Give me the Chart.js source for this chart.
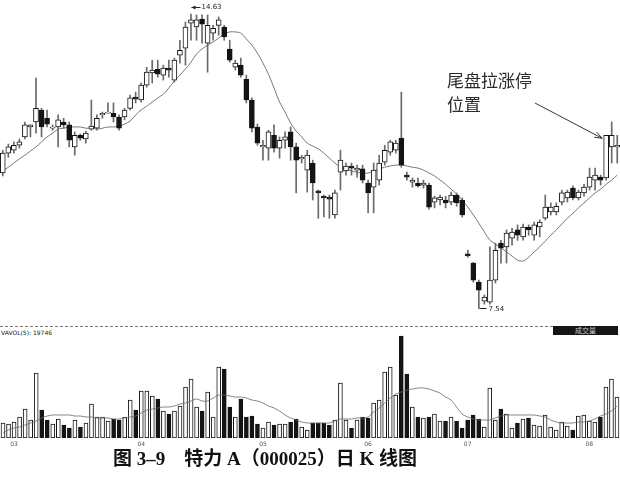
<!DOCTYPE html>
<html lang="zh">
<head>
    <meta charset="UTF-8">
    <title>特力A（000025）日K线图</title>
    <script src="https://cdn.jsdelivr.net/npm/chart.js"></script>
    <style>
        html, body {
            margin: 0;
            padding: 0;
            background: #ffffff;
        }

        body {
            width: 620px;
            height: 482px;
            position: relative;
            overflow: hidden;
            font-family: 'Noto Sans CJK SC', sans-serif;
            color: #222;
        }

        #price-chart { position: absolute; left: 0; top: 0; }
        #vol-chart { position: absolute; left: 0; top: 322px; }

        .sep {
            position: absolute;
            left: 0;
            top: 326px;
            width: 553px;
            border-top: 1px dashed #777;
        }

        .vol-label {
            position: absolute;
            left: 1px;
            top: 329px;
            font: 6px 'DejaVu Sans', sans-serif;
            color: #222;
            white-space: pre;
        }

        .vol-tag {
            position: absolute;
            left: 553px;
            top: 326px;
            width: 65px;
            height: 9px;
            background: #151515;
            color: #cfcfcf;
            font-size: 7px;
            line-height: 9px;
            text-align: center;
        }

        .note {
            position: absolute;
            left: 447px;
            top: 68px;
            font-size: 17px;
            line-height: 24px;
            color: #2a2a2a;
        }

        .caption {
            position: absolute;
            left: 113px;
            top: 449px;
            font: bold 19px 'Liberation Serif', 'Noto Sans CJK SC', serif;
            line-height: 19px;
            white-space: pre;
            color: #111;
        }
    </style>
</head>
<body>
    <canvas id="price-chart" width="620" height="322"></canvas>
    <div class="note">尾盘拉涨停<br>位置</div>

    <div class="sep"></div>
    <div class="vol-label">VAVOL(5): 19746</div>
    <div class="vol-tag">成交量</div>
    <canvas id="vol-chart" width="620" height="128"></canvas>

    <div class="caption">图 3–9　特力 A（000025）日 K 线图</div>

    <script>
        const opens = [
            10.80, 11.28, 11.35, 11.47, 11.67, 11.91, 12.03, 12.32, 12.12, 11.88,
            11.91, 12.03, 11.96, 11.43, 11.71, 11.62, 11.86, 11.88, 12.20, 12.24,
            12.24, 12.15, 12.15, 12.36, 12.63, 12.56, 12.92, 13.21, 13.30, 13.16,
            13.33, 13.04, 13.64, 13.81, 14.41, 14.32, 14.51, 13.93, 14.17, 14.36,
            14.32, 13.79, 13.35, 13.40, 13.06, 12.56, 11.91, 11.43, 11.40, 11.71,
            11.40, 11.59, 11.79, 11.43, 11.14, 10.87, 11.04, 10.37, 10.24, 10.22,
            9.79, 10.82, 10.85, 10.97, 10.87, 10.90, 10.56, 10.46, 10.63, 11.06,
            11.30, 11.35, 11.64, 10.75, 10.58, 10.56, 10.51, 10.51, 10.10, 10.15,
            10.15, 10.10, 10.27, 10.15, 8.85, 8.63, 8.17, 7.71, 7.69, 8.22,
            9.11, 9.02, 9.23, 9.43, 9.26, 9.50, 9.30, 9.50, 9.71, 9.86,
            9.86, 10.10, 10.20, 10.44, 10.20, 10.32, 10.46, 10.63, 10.70, 10.68,
            11.43, 11.43
        ];
        const highs = [
            11.35, 11.50, 11.55, 11.62, 12.03, 11.96, 13.09, 12.36, 12.32, 11.96,
            12.20, 12.12, 12.03, 11.79, 11.74, 11.81, 12.56, 12.20, 12.27, 12.49,
            12.49, 12.20, 12.36, 12.68, 12.75, 12.97, 13.35, 13.52, 13.52, 13.40,
            13.52, 13.57, 14.00, 14.44, 14.63, 14.61, 14.61, 14.61, 14.36, 14.56,
            14.36, 14.00, 13.52, 13.57, 13.16, 12.61, 11.98, 11.59, 11.83, 11.96,
            11.67, 11.79, 11.91, 11.52, 11.23, 11.35, 11.11, 10.39, 10.27, 10.27,
            10.39, 11.35, 11.04, 11.04, 10.99, 10.99, 10.63, 11.04, 11.23, 11.47,
            11.59, 11.59, 12.75, 10.82, 10.68, 10.68, 10.63, 10.56, 10.24, 10.27,
            10.24, 10.34, 10.32, 10.20, 8.94, 8.65, 8.22, 7.86, 9.02, 9.11,
            9.18, 9.43, 9.47, 9.55, 9.57, 9.55, 9.62, 9.67, 10.27, 10.08,
            10.08, 10.39, 10.39, 10.49, 10.39, 10.53, 10.92, 10.92, 10.75, 11.71,
            12.03, 11.71
        ];
        const lows = [
            10.73, 11.18, 11.28, 11.40, 11.62, 11.67, 11.76, 11.67, 11.91, 11.83,
            11.43, 11.88, 11.43, 11.23, 11.59, 11.52, 11.83, 11.83, 12.12, 12.24,
            12.03, 11.83, 12.08, 12.32, 12.49, 12.51, 12.87, 12.97, 13.11, 13.04,
            13.11, 12.99, 13.45, 13.40, 14.00, 14.00, 13.93, 13.23, 14.00, 14.12,
            14.00, 13.47, 13.28, 13.11, 12.49, 11.79, 11.47, 11.11, 11.11, 11.30,
            11.16, 11.40, 11.11, 10.32, 11.04, 10.34, 10.15, 9.71, 9.74, 9.71,
            9.71, 10.39, 10.75, 10.75, 10.70, 10.56, 9.84, 9.84, 10.51, 10.99,
            11.23, 11.28, 10.94, 10.63, 10.46, 10.46, 10.44, 9.93, 9.96, 10.03,
            9.96, 10.03, 10.00, 9.74, 8.77, 8.17, 7.54, 7.64, 7.64, 8.15,
            8.63, 8.63, 9.06, 9.18, 9.18, 9.30, 9.18, 9.26, 9.67, 9.79,
            9.79, 10.03, 10.10, 10.15, 10.15, 10.24, 10.39, 10.39, 10.51, 10.63,
            11.04, 11.04
        ];
        const closes = [
            11.28, 11.43, 11.47, 11.55, 11.96, 11.96, 12.36, 11.91, 11.98, 11.91,
            12.08, 11.96, 11.59, 11.71, 11.64, 11.76, 11.93, 12.12, 12.24, 12.27,
            12.15, 11.88, 12.32, 12.61, 12.58, 12.92, 13.23, 13.28, 13.18, 13.33,
            13.28, 13.52, 13.76, 14.32, 14.49, 14.49, 14.39, 14.36, 14.29, 14.49,
            14.08, 13.52, 13.45, 13.16, 12.56, 11.88, 11.52, 11.47, 11.79, 11.40,
            11.59, 11.67, 11.43, 11.11, 11.18, 11.23, 10.56, 10.32, 10.20, 10.17,
            10.32, 11.11, 10.97, 10.92, 10.92, 10.63, 10.32, 10.87, 11.04, 11.35,
            11.55, 11.52, 10.99, 10.70, 10.63, 10.49, 10.56, 9.98, 10.20, 10.22,
            10.08, 10.27, 10.08, 9.79, 8.80, 8.22, 7.98, 7.81, 8.22, 8.94,
            8.99, 9.35, 9.38, 9.30, 9.50, 9.43, 9.55, 9.62, 9.98, 9.98,
            10.00, 10.32, 10.34, 10.20, 10.34, 10.46, 10.70, 10.75, 10.63, 11.71,
            11.71, 11.47
        ];
        const priceMa = [
            10.85, 10.94, 11.04, 11.14, 11.23, 11.33, 11.43, 11.55, 11.67, 11.76,
            11.86, 11.88, 11.91, 11.91, 11.91, 11.88, 11.88, 11.86, 11.88, 11.91,
            11.91, 11.93, 11.98, 12.05, 12.20, 12.32, 12.41, 12.51, 12.61, 12.70,
            12.85, 13.02, 13.16, 13.31, 13.47, 13.67, 13.79, 13.88, 13.96, 14.05,
            14.15, 14.20, 14.20, 14.17, 14.03, 13.88, 13.69, 13.45, 13.18, 12.85,
            12.51, 12.27, 12.00, 11.81, 11.67, 11.52, 11.45, 11.38, 11.28, 11.16,
            11.04, 10.94, 10.90, 10.85, 10.82, 10.80, 10.80, 10.85, 10.90, 10.94,
            10.97, 10.99, 10.99, 10.97, 10.94, 10.92, 10.87, 10.80, 10.73, 10.63,
            10.53, 10.41, 10.29, 10.15, 9.98, 9.79, 9.59, 9.38, 9.18, 9.09,
            8.99, 8.90, 8.80, 8.70, 8.68, 8.77, 8.90, 9.02, 9.16, 9.30,
            9.43, 9.57, 9.71, 9.83, 9.96, 10.08, 10.20, 10.32, 10.41, 10.53,
            10.63, 10.75
        ];
        const volumes = [
            7500, 7000, 8000, 10500, 14500, 9000, 32500, 14000, 9000, 7000,
            9500, 6500, 5000, 9000, 5500, 7500, 17000, 10500, 10500, 8500,
            9500, 9000, 10500, 19000, 14000, 23500, 23500, 21000, 19500, 13500,
            12000, 13500, 16000, 25500, 29500, 15500, 13500, 23000, 10500, 35500,
            34500, 15500, 10500, 19500, 10500, 11000, 7000, 5000, 8000, 6500,
            7000, 7000, 8000, 9500, 5500, 4000, 7500, 7500, 7500, 6500,
            9000, 27500, 9000, 5000, 9000, 10500, 10000, 17500, 19000, 33000,
            35500, 21500, 51000, 32000, 15500, 10500, 10000, 10500, 12000, 8500,
            8500, 10500, 8500, 5000, 9000, 11500, 9500, 5500, 25000, 9000,
            14500, 12000, 5000, 7500, 9500, 10000, 6500, 6000, 11500, 5500,
            4000, 8000, 6000, 4000, 11000, 11500, 8500, 8000, 10500, 25500,
            29500, 20500
        ];
        const volumeMa = [
            2500, 4000, 5000, 5500, 6500, 7500, 8500, 10000, 11000, 11500,
            11500, 11500, 11500, 11000, 11000, 10500, 10500, 10000, 10000, 10000,
            9500, 9500, 10000, 10500, 11000, 12500, 14000, 14500, 15000, 15500,
            15500, 16000, 17000, 17500, 18500, 19500, 18500, 18500, 20000, 21500,
            21500, 21000, 20500, 20500, 20000, 19000, 18500, 17500, 16000, 15000,
            13500, 11500, 10000, 9000, 8000, 7500, 7500, 7500, 7500, 7500,
            8500, 9500, 9500, 9500, 10000, 10000, 10500, 13000, 15000, 17500,
            20000, 22000, 23000, 24000, 24500, 25000, 25000, 24500, 23500, 22500,
            20500, 19000, 15500, 12000, 10500, 9500, 9000, 9000, 9000, 10000,
            11000, 11500, 11500, 11500, 11500, 11500, 11500, 11000, 10500, 9000,
            8000, 7500, 7500, 7500, 8000, 8000, 8500, 9500, 11000, 12000,
            13500, 16000
        ];
        const monthTicks = ['03', '04', '05', '06', '07', '08'];
        const monthStart = [2, 25, 47, 66, 84, 106];
        const noteDay = 109; // 尾盘拉涨停那根K线

        const ink = '#141414';
        const days = opens.map((_, i) => i);
        const isUp = days.map(i => closes[i] >= opens[i]);

        const markers = {
            id: 'markers',
            afterDatasetsDraw(chart) {
                const { ctx, scales: { x, y } } = chart;
                const hi = highs.indexOf(Math.max(...highs));
                const lo = lows.indexOf(Math.min(...lows));
                ctx.save();
                ctx.strokeStyle = '#222';
                ctx.fillStyle = '#222';
                ctx.lineWidth = 1;
                ctx.font = '7px "DejaVu Sans"';
                ctx.textBaseline = 'middle';

                // 最高价
                let px = Math.round(x.getPixelForValue(hi)) + 0.5;
                let py = Math.round(y.getPixelForValue(highs[hi])) - 6.5;
                ctx.beginPath();
                ctx.moveTo(px, py);
                ctx.lineTo(px + 9, py);
                ctx.stroke();
                ctx.beginPath();
                ctx.moveTo(px, py);
                ctx.lineTo(px + 4, py - 2);
                ctx.lineTo(px + 4, py + 2);
                ctx.fill();
                ctx.fillText(highs[hi].toFixed(2), px + 10, py);

                // 最低价
                px = Math.round(x.getPixelForValue(lo)) + 0.5;
                py = Math.round(y.getPixelForValue(lows[lo])) + 0.5;
                ctx.beginPath();
                ctx.moveTo(px, py);
                ctx.lineTo(px + 7, py);
                ctx.stroke();
                ctx.fillText(lows[lo].toFixed(2), px + 9, py + 1);

                // 注释箭头
                const sx = 535, sy = 103;
                const ex = x.getPixelForValue(noteDay) - 4;
                const ey = y.getPixelForValue(highs[noteDay]) + 3;
                const a = Math.atan2(ey - sy, ex - sx);
                ctx.strokeStyle = '#333';
                ctx.beginPath();
                ctx.moveTo(sx, sy);
                ctx.lineTo(ex, ey);
                ctx.moveTo(ex - 8 * Math.cos(a - 0.35), ey - 8 * Math.sin(a - 0.35));
                ctx.lineTo(ex, ey);
                ctx.lineTo(ex - 8 * Math.cos(a + 0.35), ey - 8 * Math.sin(a + 0.35));
                ctx.stroke();
                ctx.restore();
            }
        };

        new Chart(document.getElementById('price-chart'), {
            type: 'bar',
            data: {
                labels: days,
                datasets: [
                    {
                        type: 'line',
                        data: priceMa,
                        borderColor: '#777',
                        borderWidth: 1,
                        pointRadius: 0,
                        tension: 0.35,
                        order: 3
                    },
                    {
                        data: days.map(i => [opens[i], closes[i]]),
                        backgroundColor: days.map(i => isUp[i] ? '#ffffff' : ink),
                        borderColor: ink,
                        borderWidth: 1,
                        borderSkipped: false,
                        barThickness: 5,
                        grouped: false,
                        order: 1
                    },
                    {
                        data: days.map(i => [lows[i], highs[i]]),
                        backgroundColor: '#6a6a6a',
                        barThickness: 1,
                        grouped: false,
                        order: 2
                    }
                ]
            },
            options: {
                responsive: false,
                animation: false,
                events: [],
                layout: { padding: 0 },
                plugins: { legend: { display: false }, tooltip: { enabled: false } },
                scales: {
                    x: { display: false },
                    y: { display: false, min: 7.21, max: 14.97 }
                }
            },
            plugins: [markers]
        });

        new Chart(document.getElementById('vol-chart'), {
            type: 'bar',
            data: {
                labels: days,
                datasets: [
                    {
                        type: 'line',
                        data: volumeMa,
                        borderColor: '#666',
                        borderWidth: 0.8,
                        pointRadius: 0,
                        tension: 0.3,
                        order: 0
                    },
                    {
                        data: volumes,
                        backgroundColor: days.map(i => isUp[i] ? '#ffffff' : ink),
                        borderColor: ink,
                        borderWidth: 1,
                        borderSkipped: false,
                        barThickness: 4,
                        order: 1
                    }
                ]
            },
            options: {
                responsive: false,
                animation: false,
                events: [],
                layout: { padding: { top: 11 } },
                plugins: { legend: { display: false }, tooltip: { enabled: false } },
                scales: {
                    x: {
                        grid: { display: false, drawTicks: false },
                        border: { display: false },
                        ticks: {
                            autoSkip: false,
                            maxRotation: 0,
                            padding: 3,
                            color: '#555',
                            font: { size: 6, family: 'DejaVu Sans' },
                            callback: (v, i) => {
                                const k = monthStart.indexOf(i);
                                return k >= 0 ? monthTicks[k] : '';
                            }
                        },
                        afterFit: s => { s.height = 12; }
                    },
                    y: { display: false, min: 0, max: 52500 }
                }
            }
        });
    </script>
</body>
</html>
